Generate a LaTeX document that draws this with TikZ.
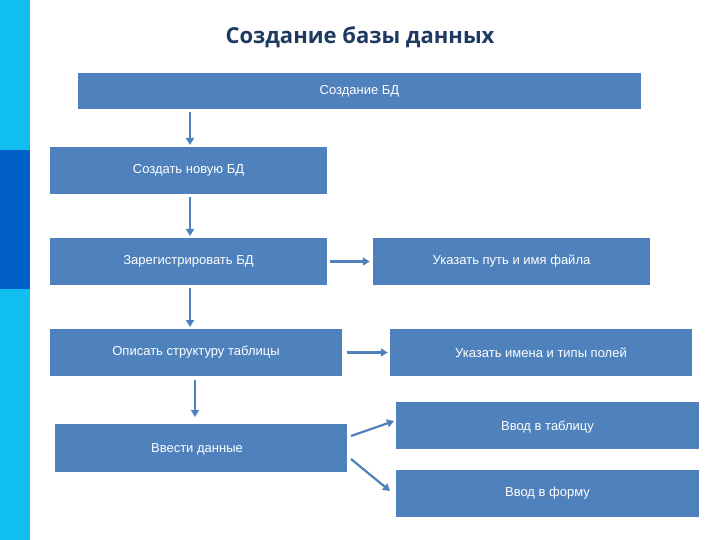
\documentclass[tikz,border=0pt]{standalone}
\usepackage{fontspec}
\setmainfont{Liberation Sans}
\newfontfamily\titlefont{Open Sans}
\usetikzlibrary{arrows.meta}
\definecolor{boxc}{HTML}{4F81BD}
\definecolor{titc}{HTML}{1F3A60}
\definecolor{barlight}{HTML}{10BEF0}
\definecolor{bardark}{HTML}{0060C8}
\begin{document}
\begin{tikzpicture}[x=1pt,y=-1pt,
  bx/.style={fill=boxc,draw=none,inner sep=0pt,text=white,font=\fontsize{13}{15}\selectfont},
  ar/.style={draw=boxc,line width=2.2pt,-{Triangle[length=7pt,width=8pt]}}]
\useasboundingbox (0,0) rectangle (720,540);
\fill[white] (0,0) rectangle (720,540);
\fill[barlight] (0,0) rectangle (30,540);
\fill[bardark] (0,150) rectangle (30,289);
\node[text=titc,font=\titlefont\bfseries\fontsize{22}{26}\selectfont] (title) at (360,37) {Создание базы данных};
\node[bx,minimum width=563pt,minimum height=36pt] (b1) at (359.5,91) {Создание БД};
\node[bx,minimum width=277pt,minimum height=47pt] (b2) at (188.5,170.5) {Создать новую БД};
\node[bx,minimum width=277pt,minimum height=47pt] (b3) at (188.5,261.5) {Зарегистрировать БД};
\node[bx,minimum width=292pt,minimum height=47pt] (b4) at (196,352.5) {Описать структуру таблицы};
\node[bx,minimum width=292pt,minimum height=48pt] (b5) at (201,448) {};
\node[text=white,font=\fontsize{13}{15}\selectfont] (t5) at (197,449) {Ввести данные};
\node[bx,minimum width=277pt,minimum height=47pt] (r1) at (511.5,261.5) {Указать путь и имя файла};
\node[bx,minimum width=302pt,minimum height=47pt] (r2) at (541,352.5) {Указать имена и типы полей};
\node[bx,minimum width=303pt,minimum height=47pt] (r3) at (547.5,425.5) {};
\node[text=white,font=\fontsize{13}{15}\selectfont] (t3) at (547.5,427) {Ввод в таблицу};
\node[bx,minimum width=303pt,minimum height=47pt] (r4) at (547.5,493.5) {Ввод в форму};
\draw[ar] (190,112) -- (190,145);
\draw[ar] (190,197) -- (190,236);
\draw[ar] (190,288) -- (190,327);
\draw[ar] (195,380) -- (195,417);
\draw[ar] ([xshift=3pt]b3.east) -- ([xshift=-3pt]r1.west);
\draw[ar] ([xshift=5pt]b4.east) -- ([xshift=-2pt]r2.west);
\draw[ar] (351,436) -- (394,421);
\draw[ar] (351,459) -- (390,491);
\end{tikzpicture}
\end{document}
